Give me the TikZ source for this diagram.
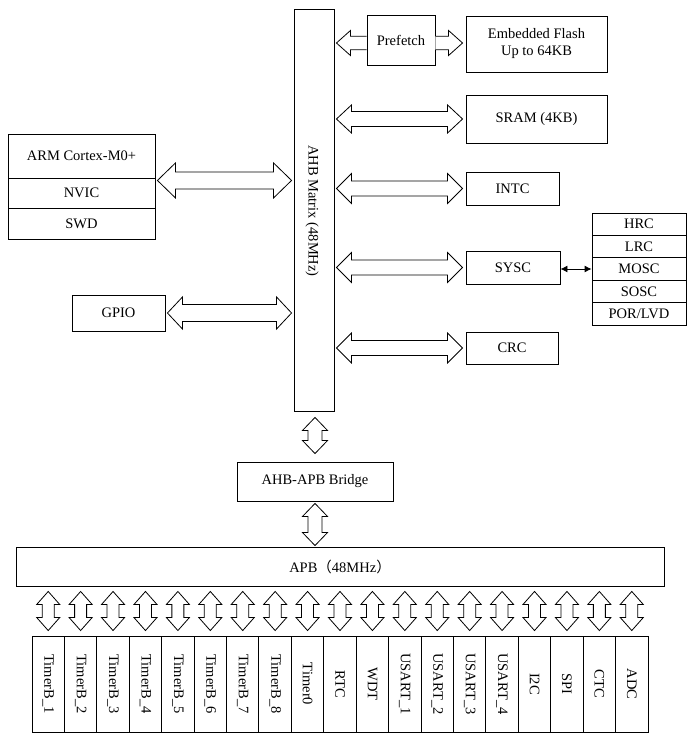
\documentclass[tikz,border=0pt]{standalone}
\usepackage{fontspec}
\setmainfont{Liberation Serif}
\newfontfamily\cjkfont{Noto Sans CJK SC}
\usetikzlibrary{calc,arrows.meta}
\newcommand\dfont{\fontsize{14.5pt}{17pt}\selectfont}
% horizontal double block arrow: #1 left point, #2 right point, #3 point giving y, #4 half head, #5 half shaft, #6 head length
\newcommand\hdbl[6]{%
 \draw[blk] let \p1=#1, \p2=#2, \p3=#3 in
 (\x1,\y3) -- (\x1+#6,\y3+#4) -- (\x1+#6,\y3+#5) -- (\x2-#6,\y3+#5) -- (\x2-#6,\y3+#4) -- (\x2,\y3)
 -- (\x2-#6,\y3-#4) -- (\x2-#6,\y3-#5) -- (\x1+#6,\y3-#5) -- (\x1+#6,\y3-#4) -- cycle;}
% vertical double block arrow: #1 top point, #2 bottom point, #3 point giving x
\newcommand\vdbl[6]{%
 \draw[blk] let \p1=#1, \p2=#2, \p3=#3 in
 (\x3,\y1) -- (\x3+#4,\y1-#6) -- (\x3+#5,\y1-#6) -- (\x3+#5,\y2+#6) -- (\x3+#4,\y2+#6) -- (\x3,\y2)
 -- (\x3-#4,\y2+#6) -- (\x3-#5,\y2+#6) -- (\x3-#5,\y1-#6) -- (\x3-#4,\y1-#6) -- cycle;}
\begin{document}
\begin{tikzpicture}[x=1pt,y=-1pt,
  box/.style={draw,line width=0.9pt,inner sep=0pt,font=\dfont,align=center},
  lab/.style={inner sep=0pt,font=\dfont},
  blk/.style={draw,line width=0.8pt,fill=white,line join=miter}]
\useasboundingbox[fill=white] (0,0) rectangle (696,741);

% AHB matrix
\node[box,minimum width=40pt,minimum height=402pt] (M) at (314,210) {};
\node[lab,rotate=-90] (Ml) at (312,211) {AHB Matrix (48MHz)};

% right side
\node[box,minimum width=68pt,minimum height=50pt] (pf) at (401,40) {Prefetch};
\node[box,minimum width=141pt,minimum height=56pt] (fl) at (536.5,44) {Embedded Flash\\Up to 64KB};
\node[box,minimum width=141pt,minimum height=48pt] (sram) at (536.5,119) {SRAM (4KB)};
\node[box,minimum width=93pt,minimum height=33pt] (intc) at (512.5,188.5) {INTC};
\node[box,minimum width=94pt,minimum height=33pt] (sysc) at (513,267.5) {SYSC};
\node[box,minimum width=92pt,minimum height=32pt] (crc) at (512,348) {CRC};

% clock stack
\node[box,minimum width=94pt,minimum height=22.4pt] (hrc) at (639,224.2) {HRC};
\node[box,minimum width=94pt,minimum height=22.4pt] (lrc) at (639,246.6) {LRC};
\node[box,minimum width=94pt,minimum height=22.4pt] (mosc) at (639,269) {MOSC};
\node[box,minimum width=94pt,minimum height=22.4pt] (sosc) at (639,291.4) {SOSC};
\node[box,minimum width=94pt,minimum height=22.4pt] (por) at (639,313.8) {POR/LVD};

% left side
\node[box,minimum width=147pt,minimum height=44pt] (arm) at (81.5,156) {ARM Cortex-M0+};
\node[box,minimum width=147pt,minimum height=30pt] (nvic) at (81.5,193) {NVIC};
\node[box,minimum width=147pt,minimum height=31pt] (swd) at (81.5,223.5) {SWD};
\node[box,minimum width=93pt,minimum height=36pt] (gpio) at (118.5,313) {GPIO};

% bridge and APB
\node[box,minimum width=156pt,minimum height=39pt] (br) at (315,481.5) {AHB-APB Bridge};
\node[box,minimum width=648pt,minimum height=39pt] (apb) at (340,566.5) {APB{\cjkfont （}48MHz{\cjkfont ）}};

% peripherals
\foreach \t [count=\i] in {TimerB\_1,TimerB\_2,TimerB\_3,TimerB\_4,TimerB\_5,TimerB\_6,TimerB\_7,TimerB\_8,Timer0,RTC,WDT,USART\_1,USART\_2,USART\_3,USART\_4,I2C,SPI,CTC,ADC}{
  \node[box,minimum width=32.42pt,minimum height=96pt] (p\i) at ({32+32.42*(\i-0.5)},684) {};
  \node[lab,rotate=-90] (pl\i) at (p\i) {\t};
  \vdbl{([yshift=-5pt]apb.south)}{([yshift=5pt]p\i.north)}{(p\i.north)}{11.5pt}{6pt}{13pt}
}

% arrows on the AHB matrix
\draw[blk] let \p1=([xshift=2pt]M.east), \p2=(pf.west), \p3=($(pf.west)+(0,3)$) in
  (\x2,\y3+6.8) -- (\x1+14,\y3+6.8) -- (\x1+14,\y3+12.5) -- (\x1,\y3) -- (\x1+14,\y3-12.5) -- (\x1+14,\y3-6.8) -- (\x2,\y3-6.8);
\draw[blk] let \p1=(pf.east), \p2=([xshift=-3pt]fl.west), \p3=($(pf.east)+(0,3)$) in
  (\x1,\y3+6.8) -- (\x2-14,\y3+6.8) -- (\x2-14,\y3+12.5) -- (\x2,\y3) -- (\x2-14,\y3-12.5) -- (\x2-14,\y3-6.8) -- (\x1,\y3-6.8);
\hdbl{([xshift=2pt]M.east)}{([xshift=-3pt]sram.west)}{(sram.west)}{14pt}{7.5pt}{15pt}
\hdbl{([xshift=2pt]M.east)}{([xshift=-3pt]intc.west)}{(intc.west)}{15pt}{7.5pt}{15pt}
\hdbl{([xshift=2pt]M.east)}{([xshift=-3pt]sysc.west)}{(sysc.west)}{15pt}{7.5pt}{15pt}
\hdbl{([xshift=2pt]M.east)}{([xshift=-3pt]crc.west)}{(crc.west)}{15pt}{7.5pt}{15pt}
\hdbl{([xshift=2pt]arm.east)}{([xshift=-2pt]M.west)}{($(arm.south east)+(0,2)$)}{17.5pt}{8.5pt}{18pt}
\hdbl{([xshift=2pt]gpio.east)}{([xshift=-2pt]M.west)}{(gpio.east)}{16pt}{8.5pt}{15pt}

% SYSC to clocks
\draw[line width=0.9pt,{Latex[length=7pt,width=7pt]}-{Latex[length=7pt,width=7pt]}] (sysc.east |- mosc.west) -- (mosc.west);

% vertical bus arrows
\vdbl{([yshift=-6pt]M.south)}{([yshift=8pt]br.north)}{(br.north)}{12.5pt}{7pt}{13pt}
\vdbl{([yshift=-2pt]br.south)}{([yshift=1pt]apb.north)}{(br.south)}{12.5pt}{7pt}{13pt}
\end{tikzpicture}
\end{document}
